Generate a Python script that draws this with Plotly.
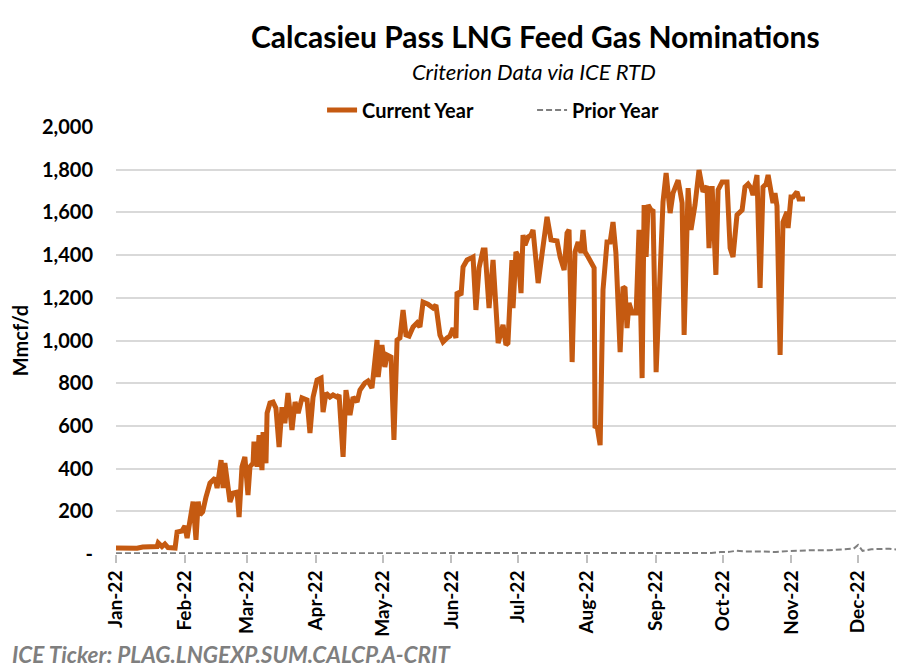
import pandas as pd
import plotly.graph_objects as go

# ---- data (day offsets from 2022-01-01, values in Mmcf/d) ----
cur_days = [0, 4.5, 9.5, 12, 15, 18.5, 19, 20.7, 22, 23.4, 26.6, 27.5, 29.7, 31, 32, 33.3, 34.7, 36, 37,
            37.8, 39, 40.5, 42.3, 44.6, 45.5, 47.3, 48.2, 49, 50, 51.3, 52.7, 54.5, 55.4, 56.7, 58, 59.4,
            60.3, 61.7, 62.1, 63.5, 64.4, 65.7, 66.2, 67.5, 68, 69.3, 70.7, 72, 73.4, 74.7, 76, 77.4, 79.2,
            80.6, 82, 83.7, 86, 87.3, 88.7, 90.5, 92.3, 93.2, 94.5, 96.3, 97.7, 99.5, 100.4, 102.2, 103.5,
            105.3, 106.7, 108.5, 109.8, 112, 113.4, 115.2, 115.7, 117.5, 118, 119.7, 121, 122, 123.8, 125.1,
            126.5, 127.8, 129.2, 130.5, 131.9, 133.7, 135.5, 136.8, 138.2, 140.4, 142.7, 144, 145.8, 147.2,
            149, 150.3, 151.7, 153, 153.5, 155.3, 156.2, 158, 159.8, 160.7, 162, 163.4, 165.2, 166.1, 167.9,
            169.7, 172, 174.2, 175.5, 176.4, 178.2, 178.7, 180, 181, 182.3, 183.2, 184.1, 185.5, 186.8,
            187.7, 190, 191.8, 194, 195.8, 198.5, 199.9, 201.7, 203, 203.9, 205.3, 206.6, 208, 209.3,
            210.2, 211.1, 212.5, 213.8, 215.2, 215.6, 216.5, 217.9, 219.2, 221, 222.4, 223.7, 225, 226.9,
            228.2, 229.1, 230, 230.9, 232.3, 234.1, 235.4, 236.8, 237.7, 238.6, 239.5, 240.8, 241.7, 243.1,
            244.9, 246.2, 247.6, 249.4, 250.7, 253, 254.8, 255.7, 257.5, 258.8, 260.6, 262.4, 264.2, 266,
            266.9, 268.3, 270, 271, 272.8, 275, 276.4, 277.7, 279.5, 281.8, 283.1, 284.5, 285.8, 286.7,
            288.5, 289.9, 291.2, 292.6, 293.5, 294.8, 295.7, 296.6, 297.5, 298.9, 300.2, 302, 302.5, 303.8,
            304.7, 306.5, 307.4, 310.1]
cur_vals = [28, 27, 27, 33, 35, 35, 52, 35, 47, 30, 28, 103, 108, 131, 75, 145, 245, 66, 245,
            183, 197, 267, 332, 356, 309, 440, 309, 426, 347, 244, 285, 290, 173, 409, 455, 276,
            409, 425, 526, 409, 557, 393, 571, 425, 660, 707, 712, 683, 501, 688, 613, 754, 581,
            712, 660, 731, 721, 567, 735, 815, 824, 665, 754, 735, 745, 735, 745, 455, 768,
            651, 735, 712, 768, 801, 810, 778, 824, 1002, 829, 979, 876, 932, 922, 534,
            1002, 1012, 1143, 1026, 1021, 1063, 1082, 1063, 1180, 1170, 1152, 1166, 1026, 993,
            1012, 1021, 1058, 1012, 1227, 1213, 1344, 1377, 1386, 1391, 1143, 1340, 1424, 1424, 1152,
            1377, 988, 1073, 979, 988, 1377, 1152, 1415, 1396, 1222, 1494, 1447, 1485, 1494,
            1518, 1269, 1415, 1579, 1471, 1466, 1391, 1330, 1503, 1518, 899, 1415, 1461, 1410,
            1518, 1415, 1391, 1363, 1340, 590, 600, 510, 1237, 1461, 1461, 1555, 1410, 946,
            1251, 1244, 1058, 1176, 1129, 1129, 1518, 824, 1635, 1391, 1635, 1611, 1606, 852,
            1391, 1649, 1784, 1597, 1690, 1751, 1644, 1026, 1714, 1518, 1635, 1799, 1696, 1723,
            1433, 1723, 1307, 1705, 1742, 1742, 1433, 1391, 1588, 1611, 1719, 1733, 1714, 1681,
            1775, 1246, 1719, 1733, 1775, 1705, 1644, 1690, 1630, 932, 1555, 1602, 1527, 1672,
            1672, 1696, 1663, 1663]

prior_days = [0, 30, 60, 90, 120, 150, 180, 210, 240, 255, 262, 268, 272, 276, 279, 283, 290, 297,
              303, 308, 314, 321, 328, 332, 334, 336, 340, 344, 348, 352, 355]
prior_vals = [3, 3, 3, 3, 3, 3, 3, 3, 4, 4, 6, 5, 9, 10, 15, 12, 12, 9,
              14, 17, 18, 18, 21, 25, 42, 15, 22, 24, 25, 20, 5]

y_tickvals = [0, 200, 400, 600, 800, 1000, 1200, 1400, 1600, 1800, 2000]
y_ticktext = ["-", "200", "400", "600", "800", "1,000", "1,200", "1,400", "1,600", "1,800", "2,000"]

base = pd.Timestamp("2022-01-01")
cur_dates = base + pd.to_timedelta(cur_days, unit="D")
prior_dates = base + pd.to_timedelta(prior_days, unit="D")

FONT = "Lato"
ORANGE = "#C55A11"
GRAY = "#7F7F7F"

fig = go.Figure()
fig.add_trace(go.Scatter(x=prior_dates, y=prior_vals, mode="lines", name="Prior Year",
                         line=dict(color=GRAY, width=2, dash="6px,3px")))
fig.add_trace(go.Scatter(x=cur_dates, y=cur_vals, mode="lines", name="Current Year",
                         line=dict(color=ORANGE, width=5)))

# page body has an 8px margin, so the figure is 8px smaller than the window
fig.update_layout(
    width=896, height=661,
    margin=dict(l=108, r=0, t=119, b=115, autoexpand=False),
    paper_bgcolor="white", plot_bgcolor="white",
    font=dict(family=FONT, color="black"),
    showlegend=True,
    legend=dict(orientation="h", x=0.2615, xanchor="left", y=1.04, yanchor="middle",
                font=dict(size=20, weight="bold"), traceorder="reversed",
                entrywidth=165, entrywidthmode="pixels", bgcolor="rgba(0,0,0,0)"),
    xaxis=dict(
        range=[pd.Timestamp("2022-01-01"), pd.Timestamp("2022-12-21 16:00")],
        dtick="M1", tick0="2022-01-01", tickformat="%b-%y", tickangle=-90,
        ticks="outside", ticklen=8, tickcolor="#BFBFBF", tickwidth=1.5,
        showgrid=False, showline=False, zeroline=False, automargin=False,
        tickfont=dict(size=19, weight="bold", color="black"),
    ),
    yaxis=dict(
        range=[0, 2000], tickvals=y_tickvals, ticktext=y_ticktext,
        showgrid=True, gridcolor="#D9D9D9", gridwidth=1.5,
        zeroline=False, showline=False, ticks="", automargin=False,
        ticklabelstandoff=22,
        tickfont=dict(size=20, weight="bold", color="black"),
        title=dict(text="Mmcf/d", font=dict(size=20, weight="bold"), standoff=8),
    ),
)

fig.add_annotation(text="<b>Calcasieu Pass LNG Feed Gas Nominations</b>", xref="paper", yref="paper",
                   x=0.532, y=1.212, xanchor="center", yanchor="middle", showarrow=False,
                   font=dict(size=30, family=FONT, color="black"))
fig.add_annotation(text="<i>Criterion Data via ICE RTD</i>", xref="paper", yref="paper",
                   x=0.530, y=1.13, xanchor="center", yanchor="middle", showarrow=False,
                   font=dict(size=22, family=FONT, color="black"))
fig.add_annotation(text="<b><i>ICE Ticker: PLAG.LNGEXP.SUM.CALCP.A-CRIT</i></b>", xref="paper", yref="paper",
                   x=-0.1345, y=-0.2365, xanchor="left", yanchor="middle", showarrow=False,
                   font=dict(size=22.5, family=FONT, color=GRAY))

fig.write_html("out.html")
